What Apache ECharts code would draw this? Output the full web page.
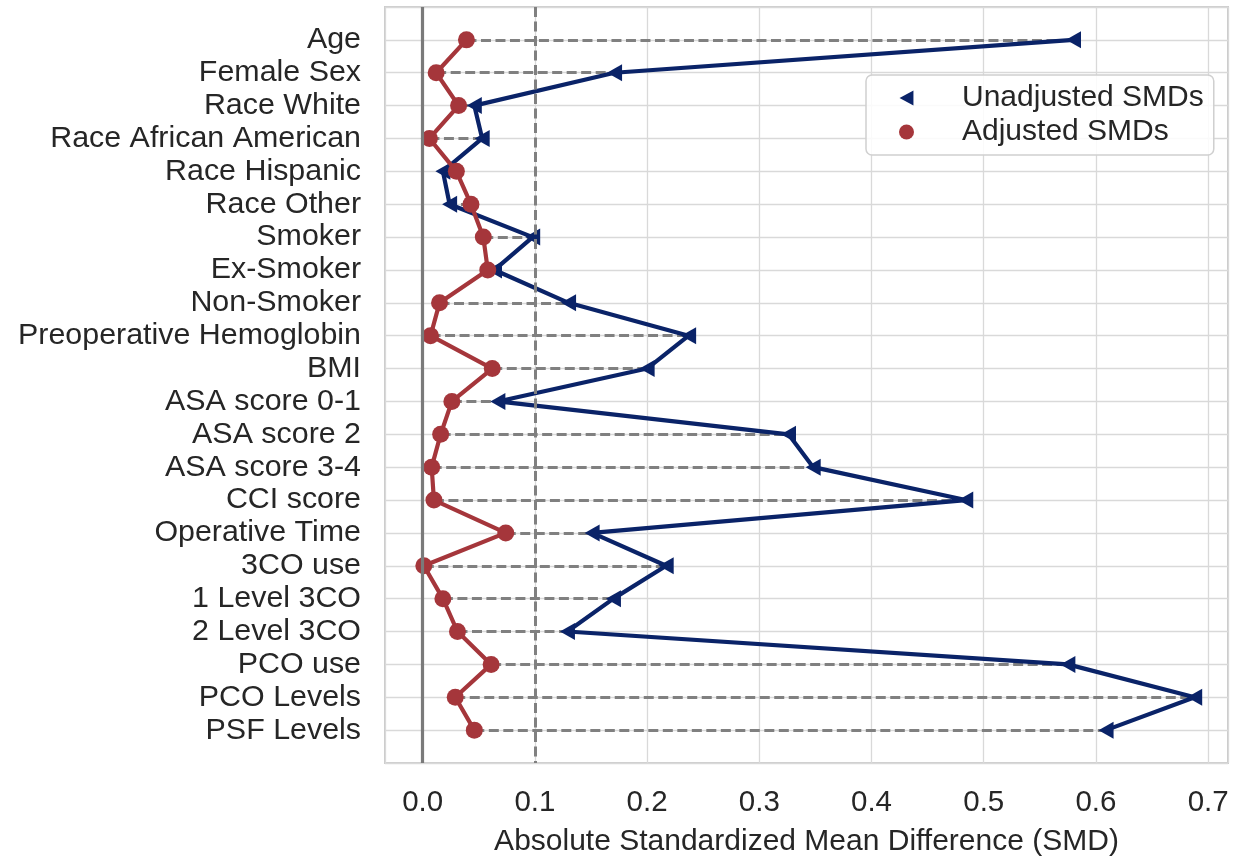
<!DOCTYPE html>
<html>
<head>
<meta charset="utf-8">
<title>SMD plot</title>
<script src="https://cdn.jsdelivr.net/npm/echarts@6/dist/echarts.min.js"></script>
<style>
  html, body { margin: 0; padding: 0; background: #fff; }
  #chart { width: 1233px; height: 857px; }
</style>
</head>
<body>
<div id="chart"></div>
<script>
// covariates, top to bottom
const categories = [
  'Age', 'Female Sex', 'Race White', 'Race African American', 'Race Hispanic',
  'Race Other', 'Smoker', 'Ex-Smoker', 'Non-Smoker', 'Preoperative Hemoglobin',
  'BMI', 'ASA score 0-1', 'ASA score 2', 'ASA score 3-4', 'CCI score',
  'Operative Time', '3CO use', '1 Level 3CO', '2 Level 3CO', 'PCO use',
  'PCO Levels', 'PSF Levels'
];

// absolute SMD before matching
const unadjusted = [
  0.580, 0.171, 0.046, 0.053, 0.018,
  0.024, 0.098, 0.064, 0.130, 0.237,
  0.200, 0.067, 0.326, 0.348, 0.484,
  0.151, 0.217, 0.170, 0.129, 0.575,
  0.688, 0.609
];

// absolute SMD after matching
const adjusted = [
  0.039, 0.012, 0.032, 0.006, 0.030,
  0.043, 0.054, 0.058, 0.015, 0.007,
  0.062, 0.026, 0.016, 0.008, 0.010,
  0.074, 0.001, 0.018, 0.031, 0.061,
  0.029, 0.046
];

const refLines = [0, 0.1];

const NAVY = '#0a2368';
const RED = '#a5363b';
const TEXT = '#262626';
const FONT = '"Liberation Sans", Arial, sans-serif';

const chart = echarts.init(document.getElementById('chart'));

chart.setOption({
  animation: false,
  grid: {
    left: 385,
    right: 5,
    top: 7,
    bottom: 94,
    outerBoundsMode: 'none',
    show: true,
    borderColor: '#cccccc',
    borderWidth: 2,
  },
  legend: {
    orient: 'vertical',
    left: 866,
    top: 75,
    align: 'left',
    padding: [8, 10, 8, 33],
    itemWidth: 15,
    itemHeight: 15,
    itemGap: 4,
    backgroundColor: 'rgba(255,255,255,0.85)',
    borderColor: '#d0d0d0',
    borderWidth: 1.5,
    borderRadius: 6,
    textStyle: {
      color: TEXT,
      fontFamily: FONT,
      fontSize: 30,
      lineHeight: 30,
      padding: [0, 0, 0, 43],
    },
    data: [
      { name: 'Unadjusted SMDs', icon: 'path://M0,7 L13,0 L13,14 Z', itemStyle: { color: NAVY } },
      { name: 'Adjusted SMDs', icon: 'circle', itemStyle: { color: RED } },
    ],
  },
  xAxis: {
    type: 'value',
    min: -0.0336,
    max: 0.7177,
    splitNumber: 7,
    minInterval: 0.1,
    maxInterval: 0.1,
    name: 'Absolute Standardized Mean Difference (SMD)',
    nameLocation: 'middle',
    nameGap: 64,
    nameTextStyle: { color: TEXT, fontFamily: FONT, fontSize: 30 },
    axisLine: { show: false },
    axisTick: { show: false },
    axisLabel: {
      color: TEXT,
      fontFamily: FONT,
      fontSize: 29.5,
      margin: 25,
      showMinLabel: false,
      showMaxLabel: false,
      formatter: (v) => (Math.abs(v) < 1e-9 ? 0 : v).toFixed(1),
    },
    splitLine: { show: true, lineStyle: { color: '#d9d9d9', width: 1.3 } },
  },
  yAxis: {
    type: 'value',
    inverse: true,
    min: -1,
    max: 22,
    interval: 1,
    axisLine: { show: false },
    axisTick: { show: false },
    axisLabel: {
      color: TEXT,
      fontFamily: FONT,
      fontSize: 30.4,
      margin: 24,
      padding: [5, 0, 0, 0],
      formatter: (v) => categories[v] || '',
    },
    splitLine: { show: true, lineStyle: { color: '#d9d9d9', width: 1.3 } },
  },
  series: [
    {
      // dashed connector from adjusted to unadjusted per row
      type: 'lines',
      coordinateSystem: 'cartesian2d',
      silent: true,
      z: 1,
      lineStyle: { color: '#808080', width: 3, type: [10, 4.5], opacity: 1 },
      data: categories.map((c, i) => ({ coords: [[adjusted[i], i], [unadjusted[i], i]] })),
      markLine: {
        silent: true,
        symbol: 'none',
        label: { show: false },
        data: [
          { xAxis: refLines[0], lineStyle: { color: '#7a7a7a', width: 3.2, type: 'solid' } },
          { xAxis: refLines[1], lineStyle: { color: '#808080', width: 3, type: [10, 4.5] } },
        ],
      },
    },
    {
      name: 'Unadjusted SMDs',
      type: 'line',
      z: 2,
      clip: false,
      color: NAVY,
      symbol: 'triangle',
      symbolSize: [17, 15],
      symbolRotate: 90,
      lineStyle: { color: NAVY, width: 4.2 },
      itemStyle: { color: NAVY },
      data: unadjusted.map((v, i) => [v, i]),
    },
    {
      name: 'Adjusted SMDs',
      type: 'line',
      z: 3,
      clip: false,
      color: RED,
      symbol: 'circle',
      symbolSize: 17,
      lineStyle: { color: RED, width: 4.2 },
      itemStyle: { color: RED },
      data: adjusted.map((v, i) => [v, i]),
    },
  ],
});
</script>
</body>
</html>
